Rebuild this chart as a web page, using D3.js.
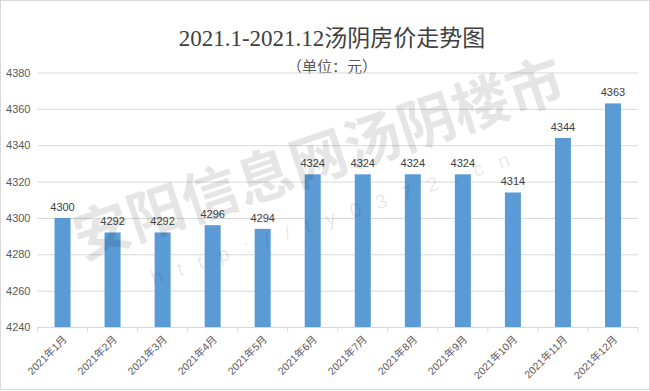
<!DOCTYPE html>
<html>
<head>
<meta charset="utf-8">
<script src="https://d3js.org/d3.v7.min.js"></script>
<style>
  body { margin: 0; background: #fff; }
  svg { display: block; }
</style>
</head>
<body>
<div id="chart"></div>
<script>
// data
const months = ["2021年1月", "2021年2月", "2021年3月", "2021年4月", "2021年5月", "2021年6月",
                "2021年7月", "2021年8月", "2021年9月", "2021年10月", "2021年11月", "2021年12月"];
const prices = [4300, 4292, 4292, 4296, 4294, 4324, 4324, 4324, 4324, 4314, 4344, 4363];
const yTicks = [4240, 4260, 4280, 4300, 4320, 4340, 4360, 4380];
const titleText = "2021.1-2021.12汤阴房价走势图";
const unitText = "（单位：元）";
const markText = "安阳信息网汤阴楼市";
const markUrl = "http://ty0372.cn";

const width = 650, height = 391;
const margin = { top: 72.5, right: 12, bottom: 64, left: 37.5 };

const svg = d3.select("#chart").append("svg")
  .attr("width", width)
  .attr("height", height);

// outer frame
svg.append("rect")
  .attr("x", 0.5).attr("y", 0.5)
  .attr("width", width - 1).attr("height", height - 2)
  .attr("fill", "#fff")
  .attr("stroke", "#d9d9d9");

const x = d3.scaleBand()
  .domain(months)
  .range([margin.left, width - margin.right])
  .paddingInner(0.68)
  .paddingOuter(0.34);

const y = d3.scaleLinear()
  .domain([4240, 4380])
  .range([height - margin.bottom, margin.top]);

// title
svg.append("text")
  .attr("x", 332).attr("y", 46)
  .attr("text-anchor", "middle")
  .attr("font-family", "'Liberation Serif', 'DejaVu Serif', 'Noto Sans CJK SC', serif")
  .attr("font-size", 23)
  .attr("fill", "#404040")
  .text(titleText);

svg.append("text")
  .attr("x", 332).attr("y", 72)
  .attr("text-anchor", "middle")
  .attr("font-family", "'Noto Sans CJK SC', sans-serif")
  .attr("font-size", 15)
  .attr("fill", "#595959")
  .text(unitText);

// gridlines + y labels
const yAxis = d3.axisLeft(y)
  .tickValues(yTicks)
  .tickFormat(d3.format("d"))
  .tickSize(-(width - margin.right - margin.left))
  .tickPadding(7);

const gy = svg.append("g")
  .attr("transform", `translate(${margin.left},0)`)
  .call(yAxis);
gy.select(".domain").remove();
gy.selectAll(".tick line").attr("stroke", "#d9d9d9");
gy.selectAll(".tick text")
  .attr("font-family", "'Liberation Sans', Arial, sans-serif")
  .attr("font-size", 11)
  .attr("fill", "#595959");

// x axis
const xAxis = d3.axisBottom(x).tickSize(0).tickPadding(0);
const gx = svg.append("g")
  .attr("transform", `translate(0,${height - margin.bottom})`)
  .call(xAxis);
gx.select(".domain").attr("stroke", "#d9d9d9");
gx.selectAll(".tick text")
  .attr("font-family", "'Liberation Sans', 'Noto Sans CJK SC', sans-serif")
  .attr("font-size", 10.5)
  .attr("fill", "#595959")
  .attr("text-anchor", "end")
  .attr("dy", 0)
  .attr("transform", "translate(5,13) rotate(-45)");

// category separators
gx.selectAll(".sep")
  .data(months)
  .enter().append("line")
  .attr("class", "sep")
  .attr("x1", d => x(d) + x.bandwidth() / 2 + x.step() / 2)
  .attr("x2", d => x(d) + x.bandwidth() / 2 + x.step() / 2)
  .attr("y1", 0).attr("y2", 5)
  .attr("stroke", "#d9d9d9");
gx.append("line")
  .attr("x1", margin.left).attr("x2", margin.left)
  .attr("y1", 0).attr("y2", 5)
  .attr("stroke", "#d9d9d9");

// bars
svg.selectAll(".bar")
  .data(prices)
  .enter().append("rect")
  .attr("class", "bar")
  .attr("x", (d, i) => x(months[i]))
  .attr("y", d => y(d))
  .attr("width", x.bandwidth())
  .attr("height", d => y(4240) - y(d))
  .attr("fill", "#5b9bd5");

// value labels
svg.selectAll(".val")
  .data(prices)
  .enter().append("text")
  .attr("class", "val")
  .attr("x", (d, i) => x(months[i]) + x.bandwidth() / 2)
  .attr("y", d => y(d) - 7)
  .attr("text-anchor", "middle")
  .attr("font-family", "'Liberation Sans', Arial, sans-serif")
  .attr("font-size", 11)
  .attr("fill", "#404040")
  .text(d => d);

// faint watermark
const wm = svg.append("g")
  .attr("transform", "translate(325,178) rotate(-18.5)")
  .attr("pointer-events", "none");
wm.append("text")
  .attr("x", 0).attr("y", 0)
  .attr("text-anchor", "middle")
  .attr("font-family", "'Noto Sans CJK SC', sans-serif")
  .attr("font-weight", "bold")
  .attr("font-size", 57)
  .attr("fill", "rgba(0,0,0,0.10)")
  .text(markText);
wm.append("text")
  .attr("x", 0).attr("y", 47)
  .attr("text-anchor", "middle")
  .attr("font-family", "'Liberation Sans', sans-serif")
  .attr("font-size", 20)
  .attr("letter-spacing", 16)
  .attr("fill", "rgba(0,0,0,0.10)")
  .text(markUrl);
</script>
</body>
</html>
